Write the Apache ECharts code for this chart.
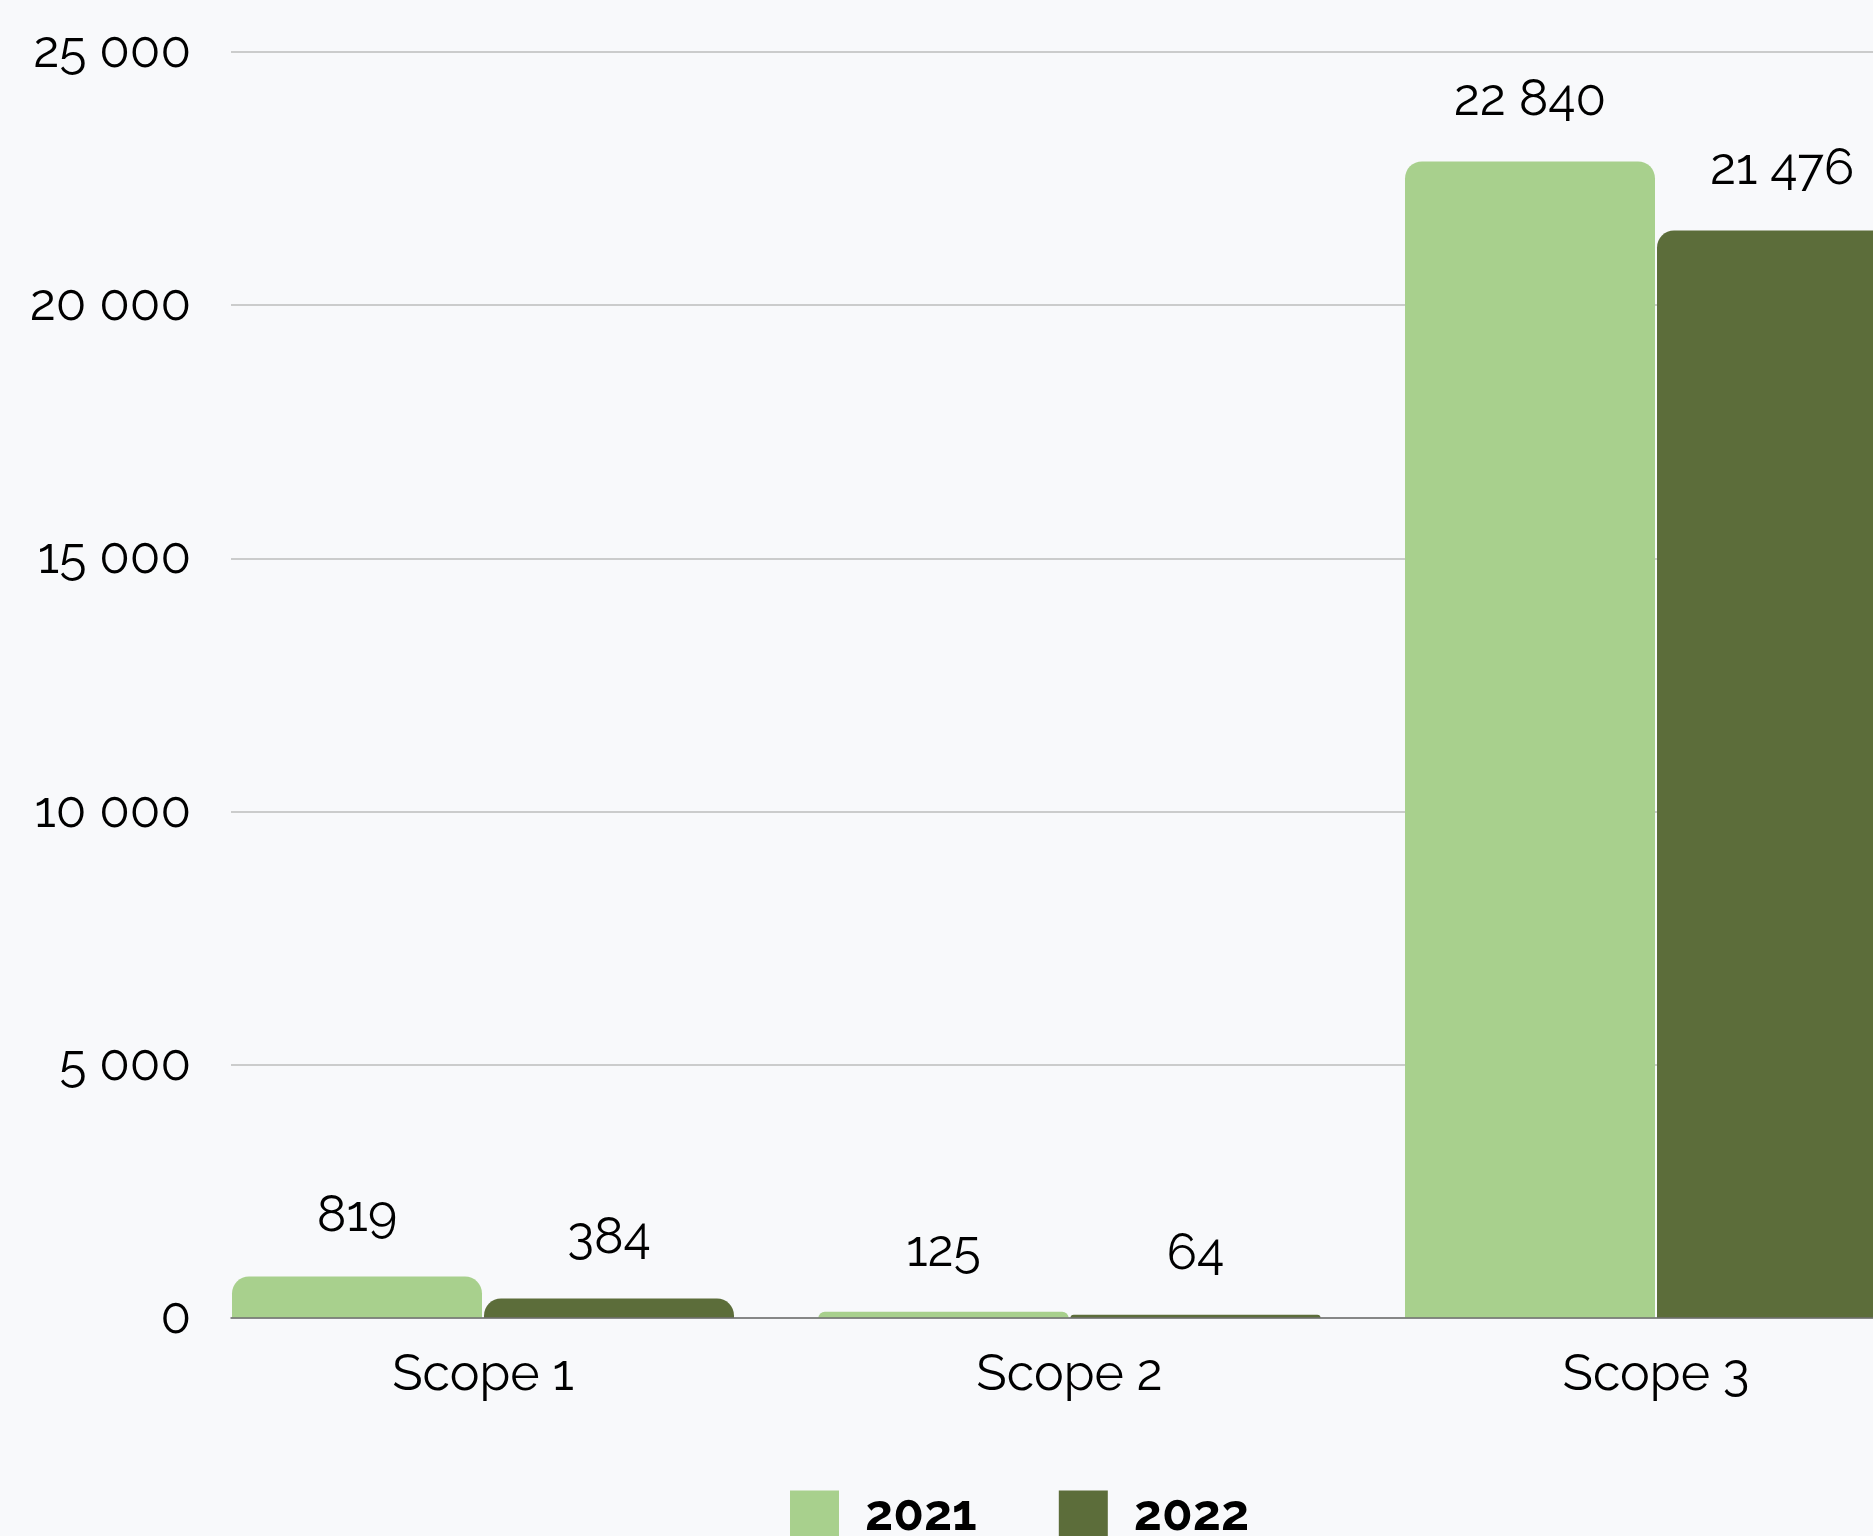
<!DOCTYPE html>
<html>
<head>
<meta charset="utf-8">
<style>
html,body{margin:0;padding:0;background:#f8f9fb;}
#chart{width:1873px;height:1536px;}
</style>
<script src="https://cdn.jsdelivr.net/npm/echarts@6/dist/echarts.min.js"></script>
</head>
<body>
<div id="chart"></div>
<script>
const categories = ['Scope 1', 'Scope 2', 'Scope 3'];
const seriesNames = ['2021', '2022'];
const values2021 = [819, 125, 22840];
const values2022 = [384, 64, 21476];
const yTicks = [0, 5000, 10000, 15000, 20000, 25000];

const FONT = 'Raleway, Lato, sans-serif';
const fmt = v => String(v).replace(/\B(?=(\d{3})+(?!\d))/g, ' ');

const chart = echarts.init(document.getElementById('chart'));
const yMin = yTicks[0], yMax = yTicks[yTicks.length - 1], yStep = yTicks[1] - yTicks[0];

const labelCfg = {
  show: true, position: 'top', distance: 36,
  color: '#000', fontFamily: FONT, fontSize: 50, lineHeight: 50,
  formatter: p => fmt(p.value)
};

chart.setOption({
  backgroundColor: '#f8f9fb',
  animation: false,
  legend: {
    data: seriesNames,
    left: 785, top: 1485,
    itemWidth: 49, itemHeight: 49, itemGap: 82,
    icon: 'rect',
    textStyle: { color: '#000', fontFamily: FONT, fontWeight: 'bold', fontSize: 50, padding: [0, 0, 0, 21] }
  },
  grid: [
    { left: 231, right: 0, top: 52, bottom: 218 },
    { left: 483, width: 1173, top: 52, bottom: 218 }
  ],
  xAxis: [
    { gridIndex: 0, type: 'value', min: 0, max: 1, z: 10,
      axisLine: { show: true, onZero: false, lineStyle: { color: '#707070', width: 1.5 } },
      axisTick: { show: false }, axisLabel: { show: false }, splitLine: { show: false } },
    { gridIndex: 1, type: 'category', data: categories, boundaryGap: false,
      axisLine: { show: false }, axisTick: { show: false }, splitLine: { show: false },
      axisLabel: { color: '#000', fontFamily: FONT, fontSize: 50, margin: 32 } }
  ],
  yAxis: [
    { gridIndex: 0, type: 'value', min: yMin, max: yMax, interval: yStep,
      axisLine: { show: false }, axisTick: { show: false },
      axisLabel: { color: '#000', fontFamily: FONT, fontSize: 50, margin: 40, formatter: v => fmt(v) },
      splitLine: { show: true, lineStyle: { color: '#bdbdbd', width: 1.5 } } },
    { gridIndex: 1, type: 'value', min: yMin, max: yMax, interval: yStep, show: false,
      splitLine: { show: false } }
  ],
  series: [
    { name: seriesNames[0], type: 'bar', xAxisIndex: 1, yAxisIndex: 1, clip: false,
      data: values2021, barWidth: 250, barGap: '0.8%',
      itemStyle: { color: '#a8d08d', borderRadius: [17, 17, 0, 0] },
      label: labelCfg },
    { name: seriesNames[1], type: 'bar', xAxisIndex: 1, yAxisIndex: 1, clip: false,
      data: values2022, barWidth: 250, barGap: '0.8%',
      itemStyle: { color: '#5c6d3a', borderRadius: [17, 17, 0, 0] },
      label: labelCfg }
  ]
});
</script>
</body>
</html>
